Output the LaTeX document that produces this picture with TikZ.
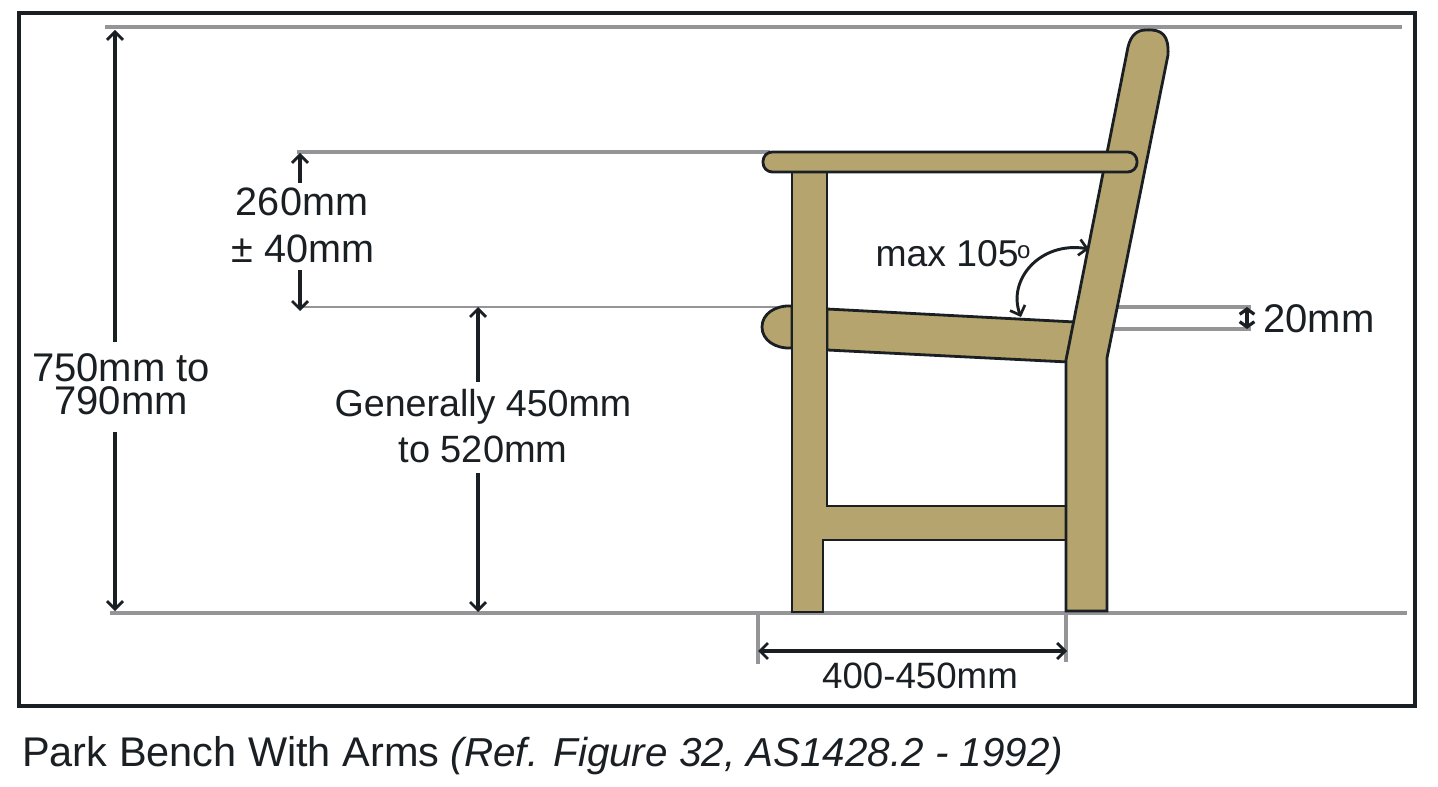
\documentclass[tikz,border=0pt]{standalone}
\usepackage{fontspec}
\setmainfont{Liberation Sans}
\usetikzlibrary{arrows.meta}
\definecolor{wood}{HTML}{B5A46D}
\definecolor{ink}{HTML}{1A1F24}
\definecolor{guide}{HTML}{959598}
\tikzset{
  guideline/.style={draw=guide,line width=2.8pt},
  thinguide/.style={draw=guide,line width=2pt},
  part/.style={fill=wood,draw=ink,line width=2.1pt,line join=miter},
  dim/.style={draw=ink,line width=2.2pt,{Straight Barb[length=6pt,width=12pt,line width=2pt]}-{Straight Barb[length=6pt,width=12pt,line width=2pt]}},
  dimup/.style={draw=ink,line width=3pt,-{Straight Barb[length=6pt,width=12pt,line width=2pt]}},
  lab/.style={font=\fontsize{29.7}{29.7}\selectfont,text=ink,inner sep=0pt,anchor=center},
}
\begin{document}
\begin{tikzpicture}[x=0.75pt,y=-0.75pt]
\useasboundingbox (0,0) rectangle (1438,787);
\fill[white] (0,0) rectangle (1438,787);
\draw[draw=ink,line width=3pt] (19,13) rectangle (1415,706);
% named points
\coordinate (topL) at (105,27); \coordinate (topR) at (1402,27);
\coordinate (gndL) at (110,613); \coordinate (gndR) at (1407,613);
\coordinate (armL) at (297,152); \coordinate (armR) at (770,152);
\coordinate (seatL) at (302,307); \coordinate (seatR) at (795,307);
\coordinate (e1L) at (1110,307); \coordinate (e1R) at (1251,307);
\coordinate (e2L) at (1113,329); \coordinate (e2R) at (1251,329);
\coordinate (v1T) at (758,613); \coordinate (v1B) at (758,664);
\coordinate (v2T) at (1066,613); \coordinate (v2B) at (1066,662);
% guides
\draw[guideline] (topL) -- (topR);
\draw[guideline] (gndL) -- (gndR);
\draw[guideline] (armL) -- (armR);
\draw[thinguide] (seatL) -- (seatR);
\draw[guideline] (e1L) -- (e1R);
\draw[guideline] (e2L) -- (e2R);
\draw[guideline] (v1T) -- (v1B);
\draw[guideline] (v2T) -- (v2B);
% bench
\draw[part] (792,306) .. controls (775,305) and (762,314) .. (762,327) .. controls (762,340) and (775,349) .. (792,348) -- cycle;
\draw[part] (827,309) -- (1075,322) -- (1068,362) -- (827,350) -- cycle;
\draw[part] (792,165) -- (827,165) -- (827,506) -- (1070,506) -- (1070,540) -- (823,540) -- (823,612) -- (792,612) -- cycle;
\draw[part] (1066,360) -- (1128,47) .. controls (1131,35) and (1137,30) .. (1146,30) .. controls (1162,29) and (1169,35) .. (1168,55) -- (1107,358) -- (1107,611) -- (1066,611) -- cycle;
\draw[part,rounded corners=7pt] (763,152) rectangle (1137,172);
% labels
\node[lab,font=\fontsize{30}{24.75}\selectfont,align=center] (t750) at (121,384) {750mm to\\790mm};
\node[lab] (t260a) at (302,202) {260mm};
\node[lab] (t260b) at (303,249) {± 40mm};
\node[lab,font=\fontsize{28.2}{28.2}\selectfont] (tgena) at (483,407) {Generally 450mm};
\node[lab,font=\fontsize{28.5}{28.5}\selectfont] (tgenb) at (483,449) {to 520mm};
\node[lab,font=\fontsize{27.5}{27.5}\selectfont] (t400) at (920,676) {400-450mm};
\node[lab,font=\fontsize{28}{28}\selectfont] (tmax) at (953,254) {max 105\kern-1.2pt\raisebox{6pt}{\fontsize{18}{18}\selectfont o}};
\node[lab,anchor=west,font=\fontsize{30}{30}\selectfont] (t20) at (1263,319) {20mm};
\node[anchor=west,inner sep=0pt,text=ink,font=\fontsize{31.1}{31.1}\selectfont] (cap) at (22,756) {Park Bench With Arms {\fontsize{30.3}{30.3}\selectfont\textit{(Ref. Figure 32, AS1428.2 - 1992)}}};
% dimensions
\coordinate (d750T) at (115,30); \coordinate (d750B) at (115,611);
\coordinate (d750u) at (115,342); \coordinate (d750d) at (115,432);
\draw[dimup] (d750u) -- (d750T);
\draw[dimup] (d750d) -- (d750B);
\coordinate (d260T) at (300,153); \coordinate (d260u) at (300,183);
\coordinate (d260d) at (300,270); \coordinate (d260B) at (300,311);
\draw[dimup] (d260u) -- (d260T);
\draw[dimup] (d260d) -- (d260B);
\coordinate (dgT) at (478,307); \coordinate (dgu) at (478,382);
\coordinate (dgd) at (478,473); \coordinate (dgB) at (478,612);
\draw[dimup,line width=2.4pt] (dgu) -- (dgT);
\draw[dimup,line width=2.4pt] (dgd) -- (dgB);
\coordinate (dwL) at (758,651); \coordinate (dwR) at (1067,651);
\draw[dim,line width=3pt] (dwL) -- (dwR);
\coordinate (d20T) at (1247,307); \coordinate (d20B) at (1247,329);
\draw[draw=ink,line width=2.6pt,{Straight Barb[length=4pt,width=11pt,line width=2.4pt]}-{Straight Barb[length=4pt,width=11pt,line width=2.4pt]}] (d20T) -- (d20B);
\coordinate (angS) at (1021,317); \coordinate (angE) at (1089,249);
\draw[dim] (angS) .. controls (1007,280) and (1040,241) .. (angE);
\end{tikzpicture}
\end{document}
